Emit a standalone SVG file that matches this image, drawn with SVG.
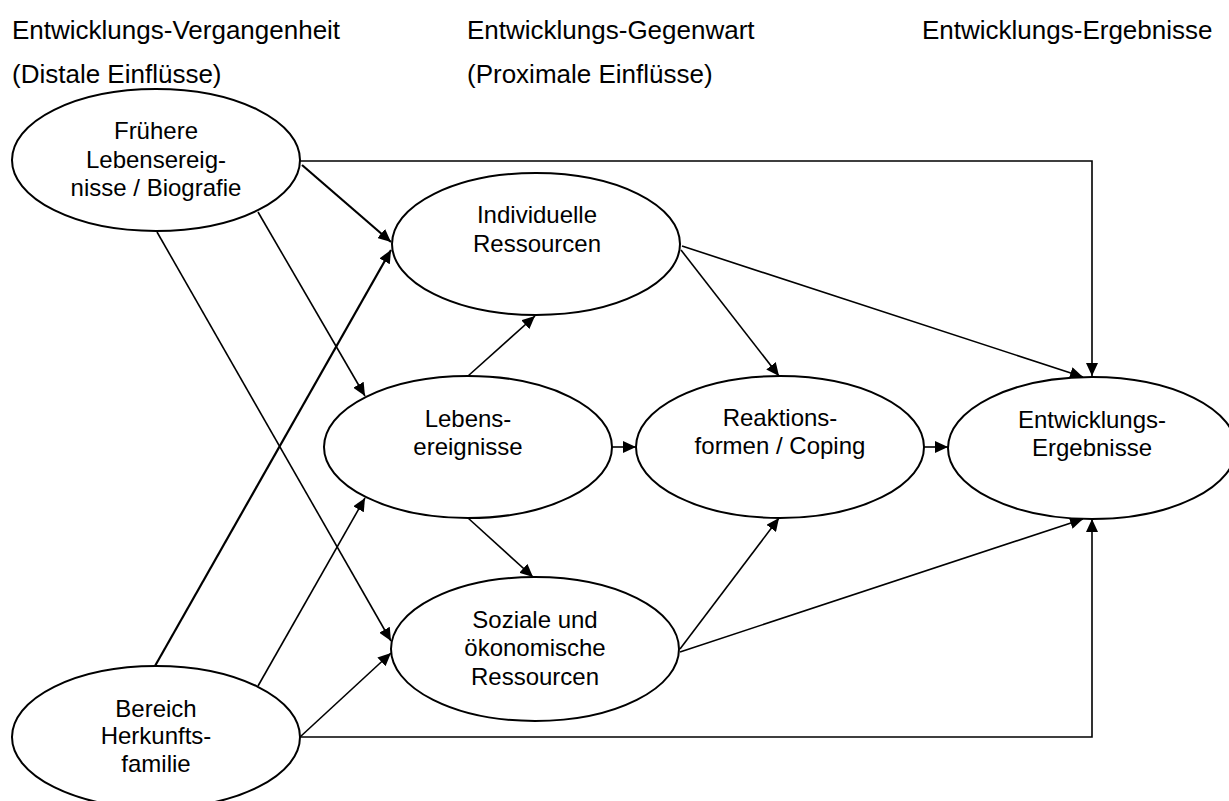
<svg xmlns="http://www.w3.org/2000/svg" width="1229" height="801" viewBox="0 0 1229 801">
<style>
.hd{font-family:"Liberation Sans",Arial,sans-serif;font-size:26px;fill:#000}
.nt{font-family:"Liberation Sans",Arial,sans-serif;font-size:24px;fill:#000;text-anchor:middle}
.el{fill:#fff;stroke:#000;stroke-width:2}
.c{fill:none;stroke:#000;stroke-width:1.6;marker-end:url(#ah)}
.c2{fill:none;stroke:#000;stroke-width:2.2;marker-end:url(#ah)}
</style>
<defs>
<marker id="ah" markerUnits="userSpaceOnUse" markerWidth="13" markerHeight="12" refX="13" refY="6" orient="auto">
<path d="M0,0 L13,6 L0,12 z" fill="#000"/>
</marker>
</defs>
<rect width="1229" height="801" fill="#fff"/>
<g id="headers">
<text class="hd" x="12" y="39">Entwicklungs-Vergangenheit</text>
<text class="hd" x="12" y="83">(Distale Einflüsse)</text>
<text class="hd" x="467" y="39">Entwicklungs-Gegenwart</text>
<text class="hd" x="467" y="83">(Proximale Einflüsse)</text>
<text class="hd" x="922" y="39">Entwicklungs-Ergebnisse</text>
</g>
<g id="connectors">
<path class="c" d="M300,161 H1092 V376"/>
<path class="c2" d="M302,165 L391,242"/>
<path class="c2" d="M155,666 L391,250"/>
<path class="c" d="M157,232 L391,641"/>
<path class="c" d="M258,212 L365,396"/>
<path class="c" d="M258,686 L365,498"/>
<path class="c" d="M468,376 L535,316"/>
<path class="c" d="M468,518 L533,577"/>
<path class="c" d="M612,447 L636,447"/>
<path class="c" d="M924,447 L948,447"/>
<path class="c" d="M681,250 L779,376"/>
<path class="c" d="M682,246 L1083,377"/>
<path class="c" d="M680,649 L779,518"/>
<path class="c" d="M680,652 L1083,519"/>
<path class="c" d="M300,737 H1092 V519"/>
<path class="c" d="M300,737 L391,653"/>
</g>
<g id="n-fruehere">
<ellipse class="el" cx="156" cy="160" rx="144" ry="71"/>
<text class="nt" x="156" y="139">Frühere</text>
<text class="nt" x="156" y="168">Lebensereig-</text>
<text class="nt" x="156" y="196">nisse / Biografie</text>
</g>
<g id="n-individuelle">
<ellipse class="el" cx="536" cy="244" rx="144" ry="71"/>
<text class="nt" x="537" y="223">Individuelle</text>
<text class="nt" x="537" y="252">Ressourcen</text>
</g>
<g id="n-lebensereignisse">
<ellipse class="el" cx="468" cy="447" rx="144" ry="71"/>
<text class="nt" x="468" y="427">Lebens-</text>
<text class="nt" x="468" y="455">ereignisse</text>
</g>
<g id="n-reaktion">
<ellipse class="el" cx="780" cy="447" rx="144" ry="71"/>
<text class="nt" x="780" y="426">Reaktions-</text>
<text class="nt" x="780" y="454">formen / Coping</text>
</g>
<g id="n-ergebnisse">
<ellipse class="el" cx="1092" cy="448" rx="144" ry="71"/>
<text class="nt" x="1092" y="428">Entwicklungs-</text>
<text class="nt" x="1092" y="456">Ergebnisse</text>
</g>
<g id="n-soziale">
<ellipse class="el" cx="535" cy="649" rx="144" ry="72"/>
<text class="nt" x="535" y="628">Soziale und</text>
<text class="nt" x="535" y="656">ökonomische</text>
<text class="nt" x="535" y="685">Ressourcen</text>
</g>
<g id="n-bereich">
<ellipse class="el" cx="156" cy="737" rx="144" ry="71"/>
<text class="nt" x="156" y="717">Bereich</text>
<text class="nt" x="156" y="744">Herkunfts-</text>
<text class="nt" x="156" y="772">familie</text>
</g>
</svg>
